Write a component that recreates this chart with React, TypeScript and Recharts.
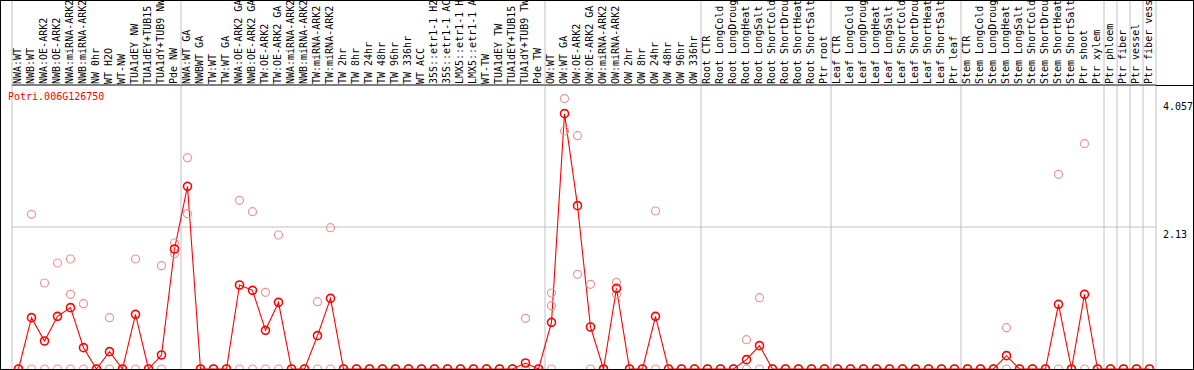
import React from 'react';
import { ComposedChart, Line, XAxis, YAxis, ReferenceLine } from 'recharts';

const categories: string[] = [
  'NWA:WT', 'NWB:WT', 'NWA:OE-ARK2', 'NWB:OE-ARK2', 'NWA:miRNA-ARK2', 'NWB:miRNA-ARK2', 'NW 0hr', 'WT H2O', 'WT-NW', 'TUA1dEY NW', 'TUA1dEY+TUB15', 'TUA1dY+TUB9 NW', 'Pde NW',
  'NWA:WT GA', 'NWBWT GA', 'TW:WT', 'TW:WT GA', 'NWA:OE-ARK2 GA', 'NWB:OE-ARK2 GA', 'TW:OE-ARK2', 'TW:OE-ARK2 GA', 'NWA:miRNA-ARK2', 'NWB:miRNA-ARK2', 'TW:miRNA-ARK2', 'TW:miRNA-ARK2',
  'TW 2hr', 'TW 8hr', 'TW 24hr', 'TW 48hr', 'TW 96hr', 'TW 336hr', 'WT ACC', '35S::etr1-1 H2', '35S::etr1-1 AC', 'LMX5::etr1-1 H', 'LMX5::etr1-1 A', 'WT-TW', 'TUA1dEY TW', 'TUA1dEY+TUB15',
  'TUA1dY+TUB9 TW', 'Pde TW',
  'OW:WT', 'OW:WT GA', 'OW:OE-ARK2', 'OW:OE-ARK2 GA', 'OW:miRNA-ARK2', 'OW:miRNA-ARK2', 'OW 2hr', 'OW 8hr', 'OW 24hr', 'OW 48hr', 'OW 96hr', 'OW 336hr',
  'Root CTR', 'Root LongCold', 'Root LongDroug', 'Root LongHeat', 'Root LongSalt', 'Root ShortCold', 'Root ShortDrou', 'Root ShortHeat', 'Root ShortSalt', 'Ptr root',
  'Leaf CTR', 'Leaf LongCold', 'Leaf LongDroug', 'Leaf LongHeat', 'Leaf LongSalt', 'Leaf ShortCold', 'Leaf ShortDrou', 'Leaf ShortHeat', 'Leaf ShortSalt', 'Ptr leaf',
  'Stem CTR', 'Stem LongCold', 'Stem LongDroug', 'Stem LongHeat', 'Stem LongSalt', 'Stem ShortCold', 'Stem ShortDrou', 'Stem ShortHeat', 'Stem ShortSalt', 'Ptr shoot',
  'Ptr xylem', 'Ptr phloem', 'Ptr fiber', 'Ptr vessel', 'Ptr fiber vess',
];

const meanValues: number[] = [
  0, 0.77, 0.42, 0.79, 0.92, 0.32, 0, 0.26, 0, 0.82, 0, 0.21, 1.8,
  2.74, 0, 0, 0, 1.26, 1.18, 0.58, 1.0, 0, 0, 0.5, 1.06,
  0, 0, 0, 0, 0, 0, 0, 0, 0, 0, 0, 0, 0, 0,
  0.09, 0,
  0.7, 3.83, 2.45, 0.63, 0, 1.21, 0, 0, 0.79, 0, 0, 0,
  0, 0, 0, 0.14, 0.35, 0, 0, 0, 0, 0,
  0, 0, 0, 0, 0, 0, 0, 0, 0, 0,
  0, 0, 0, 0.2, 0, 0, 0, 0.97, 0, 1.12,
  0, 0, 0, 0, 0,
];

const replicate1: number[] = [
  0, 2.32, 1.29, 1.59, 1.65, 0.98, 0, 0.77, 0, 1.65, 0, 1.55, 1.89,
  3.17, 0, 0, 0, 2.53, 2.36, 1.15, 2.01, 0, 0, 1.01, 2.12,
  0, 0, 0, 0, 0, 0, 0, 0, 0, 0, 0, 0, 0, 0,
  0.76, 0,
  1.14, 4.057, 3.5, 1.27, 0, 1.3, 0, 0, 2.37, 0, 0, 0,
  0, 0, 0, 0.44, 1.07, 0, 0, 0, 0, 0,
  0, 0, 0, 0, 0, 0, 0, 0, 0, 0,
  0, 0, 0, 0.62, 0, 0, 0, 2.92, 0, 3.38,
  0, 0, 0, 0, 0,
];

const replicate2: number[] = [
  0, 0, 0, 0, 1.12, 0, 0, 0, 0, 0, 0, 0, 1.73,
  2.33, 0, 0, 0, 0, 0, 0, 0, 0, 0, 0, 0,
  0, 0, 0, 0, 0, 0, 0, 0, 0, 0, 0, 0, 0, 0,
  0, 0,
  0.95, 3.57, 1.42, 0, 0, 1.12, 0, 0, 0, 0, 0, 0,
  0, 0, 0, 0, 0, 0, 0, 0, 0, 0,
  0, 0, 0, 0, 0, 0, 0, 0, 0, 0,
  0, 0, 0, 0, 0, 0, 0, 0, 0, 0,
  0, 0, 0, 0, 0,
];

const replicate3Zero: number[] = [5, 42];

const groupEnds: number[] = [13, 41, 53, 63, 73, 84, 85, 86, 87, 88];
const yTicks: number[] = [0, 2.13, 4.057];
const yMax = 4.26;
const geneName = 'Potri.006G126750';

const N = categories.length;
const RED = '#ff0000';
const LIGHT = '#ee9494';
const GRID = '#c0c0c0';
const FONT = 'DejaVu Sans Mono';
const HEADER_H = 85;

const rows = categories.map((label, i) => ({
  idx: i + 1,
  label,
  mean: meanValues[i],
  r1: replicate1[i],
  r2: replicate2[i],
  r3: replicate3Zero.includes(i + 1) ? 0 : null,
}));

const HeaderTick = (props: any) => {
  const { x, payload, width } = props;
  const i = payload.value as number;
  const bw = (typeof width === 'number' && width > 500 ? width : 1144) / N;
  const tx = x + 2.5;
  const ty = HEADER_H - 1;
  return (
    <g>
      {i === 1 && <line x1={x - bw / 2} x2={x - bw / 2} y1={0} y2={HEADER_H} stroke={GRID} />}
      {groupEnds.includes(i) && <line x1={x + bw / 2} x2={x + bw / 2} y1={0} y2={HEADER_H} stroke={GRID} />}
      <text x={tx} y={ty} transform={`rotate(-90, ${tx}, ${ty})`} fontFamily={FONT} fontSize={10} fill="#000" textAnchor="start">
        {categories[i - 1]}
      </text>
    </g>
  );
};

const YTick = (props: any) => {
  const { x, y, payload } = props;
  const v = payload.value as number;
  return (
    <text x={x - 1} y={y + (v === 0 ? -3 : 11)} fontFamily={FONT} fontSize={10} fill="#000" textAnchor="start">
      {String(v)}
    </text>
  );
};

export default function App() {
  return (
    <div style={{ position: 'absolute', left: 0, top: 0, width: 1194, height: 370, background: '#fff' }}>
      <ComposedChart width={1194} height={370} data={rows} margin={{ top: 0, right: 0, bottom: 1, left: 12 }}>
        <XAxis
          dataKey="idx"
          type="number"
          orientation="top"
          domain={[0.5, N + 0.5]}
          ticks={rows.map((r) => r.idx)}
          interval={0}
          height={HEADER_H}
          tickLine={false}
          axisLine={{ stroke: '#000' }}
          tick={(p: any) => <HeaderTick {...p} />}
        />
        <YAxis
          orientation="right"
          width={38}
          domain={[0, yMax]}
          ticks={yTicks}
          axisLine={false}
          tickLine={false}
          tick={(p: any) => <YTick {...p} />}
        />
        <ReferenceLine y={2.13} stroke={GRID} />
        {[0, ...groupEnds].map((g) => (
          <ReferenceLine key={g} x={g + 0.5} stroke={GRID} />
        ))}
        <Line dataKey="r1" stroke="none" dot={{ r: 4, stroke: LIGHT, strokeWidth: 1.2, fill: 'none' }} activeDot={false} isAnimationActive={false} />
        <Line dataKey="r2" stroke="none" dot={{ r: 4, stroke: LIGHT, strokeWidth: 1.2, fill: 'none' }} activeDot={false} isAnimationActive={false} />
        <Line dataKey="r3" stroke="none" dot={{ r: 4, stroke: LIGHT, strokeWidth: 1.2, fill: 'none' }} activeDot={false} isAnimationActive={false} />
        <Line dataKey="mean" stroke={RED} strokeWidth={1.1} dot={{ r: 4, stroke: RED, strokeWidth: 1.6, fill: 'none' }} activeDot={false} isAnimationActive={false} />
      </ComposedChart>
      <div style={{ position: 'absolute', left: 8, top: 92, fontFamily: FONT, fontSize: 10, lineHeight: '10px', color: RED, whiteSpace: 'nowrap' }}>
        {geneName}
      </div>
      <div style={{ position: 'absolute', left: 0, top: 0, width: 1194, height: 370, border: '1px solid #000', boxSizing: 'border-box', pointerEvents: 'none' }} />
      <div style={{ position: 'absolute', left: 1156, top: HEADER_H, width: 38, height: 1, background: '#000', pointerEvents: 'none' }} />
    </div>
  );
}
